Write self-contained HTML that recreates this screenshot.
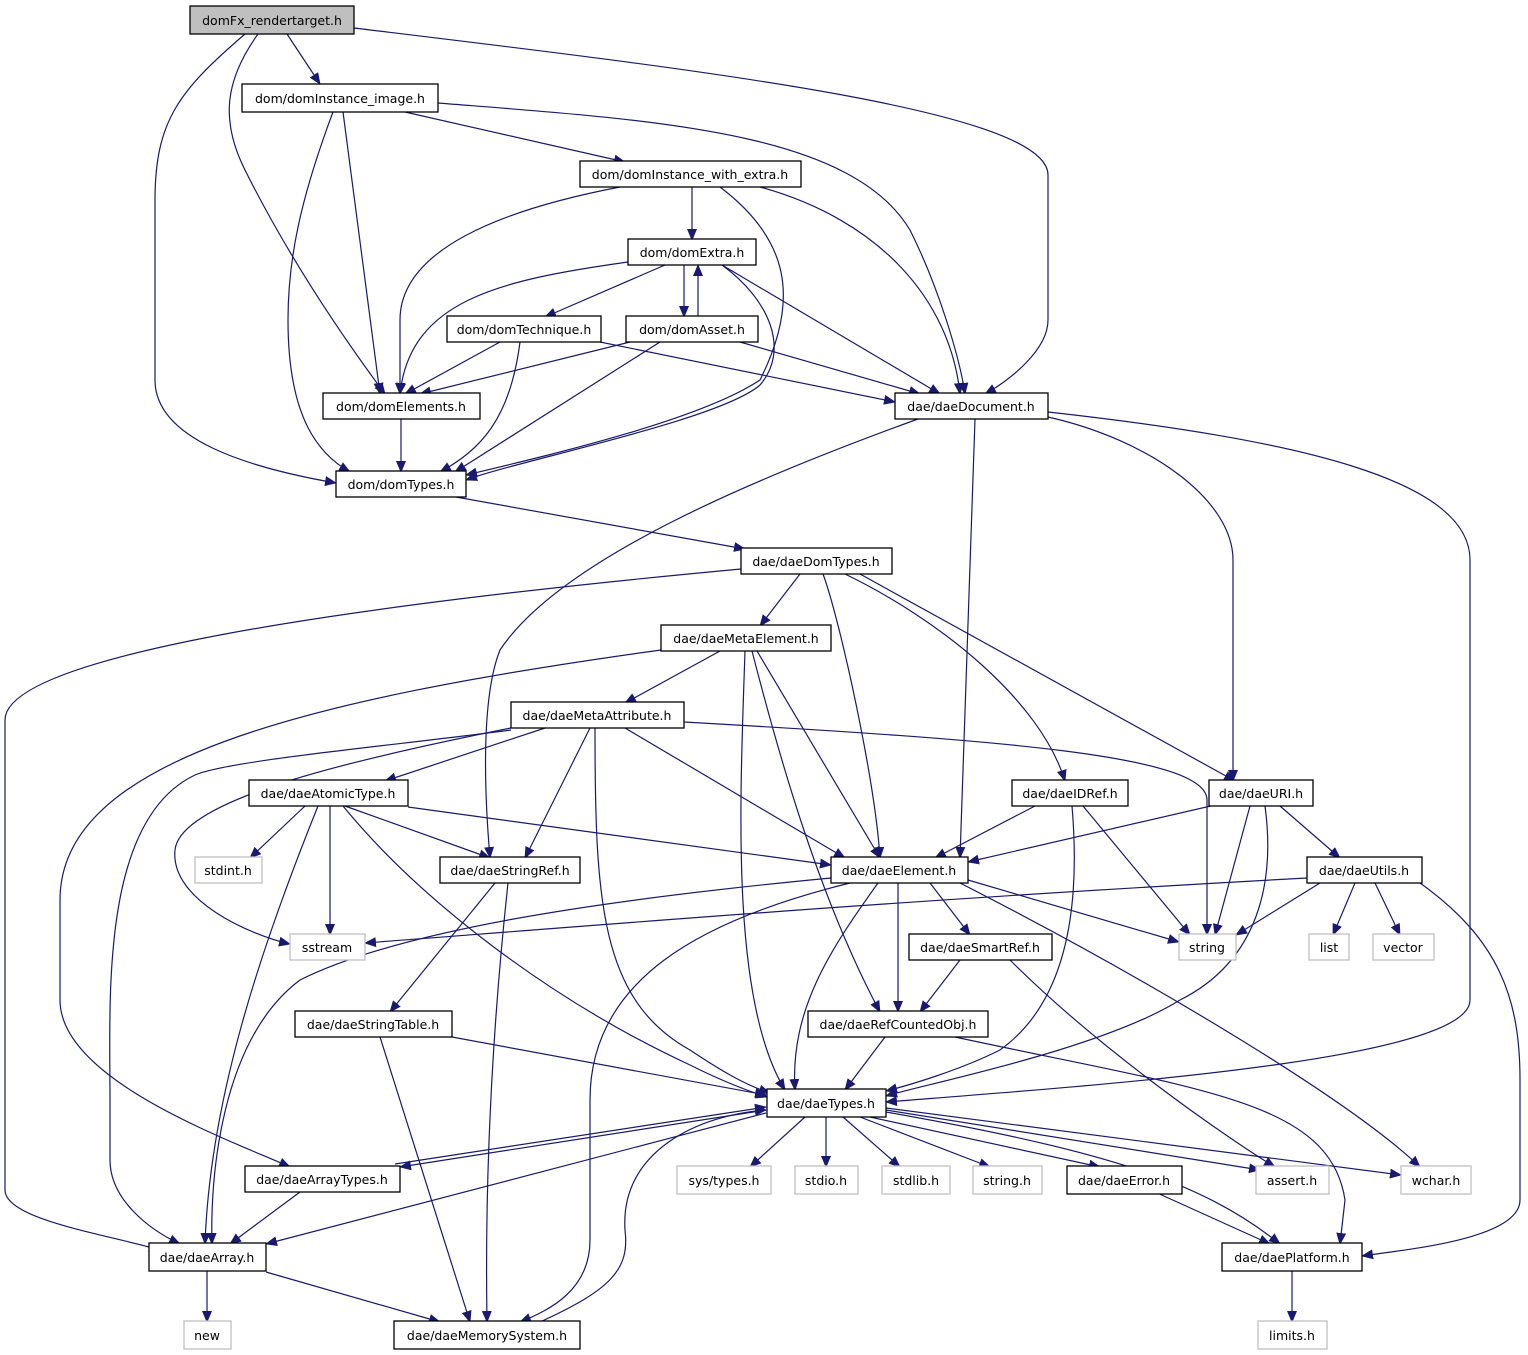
<!DOCTYPE html>
<html><head><meta charset="utf-8"><style>
html,body{margin:0;padding:0;background:#fff}
svg{display:block}
text{font-family:"DejaVu Sans","Liberation Sans",sans-serif;font-size:12.5px;fill:#000}
.n{fill:#fff;stroke:#000;stroke-width:1.3}
.g{fill:#fff;stroke:#bfbfbf;stroke-width:1.3}
.e{fill:none;stroke:#191970;stroke-width:1.2}
</style></head><body>
<svg width="1528" height="1355" viewBox="0 0 1528 1355" xmlns="http://www.w3.org/2000/svg">
<defs><marker id="a" markerWidth="12" markerHeight="10" refX="11" refY="5" orient="auto" markerUnits="userSpaceOnUse"><path d="M0,0 L12,5 L0,10 z" fill="#191970"/></marker></defs>
<g class="e" marker-end="url(#a)">
<path d="M287,34 L320,84"/>
<path d="M245,34 C180,90 155,120 155,200 L155,380 C155,440 250,468 336,483"/>
<path d="M258,34 C225,80 220,120 245,170 C290,260 345,340 385,394"/>
<path d="M354,28 C700,70 1048,110 1048,175 L1048,320 C1048,350 1010,380 985,394"/>
<path d="M405,112 L625,162"/>
<path d="M343,112 L380,394"/>
<path d="M333,112 C300,200 288,260 288,320 C288,420 320,455 350,472"/>
<path d="M438,103 C650,120 850,130 910,230 C940,290 960,360 965,394"/>
<path d="M692,187 L692,240"/>
<path d="M620,187 C500,210 400,250 400,320 L400,394"/>
<path d="M720,187 C790,240 800,300 760,380 C700,420 550,455 466,475"/>
<path d="M760,187 C880,220 950,300 960,394"/>
<path d="M665,265 L545,317"/>
<path d="M684,265 L684,317"/>
<path d="M698,317 L698,265"/>
<path d="M628,262 C500,280 410,300 400,394"/>
<path d="M722,265 C770,300 790,350 760,385 C720,420 520,460 466,480"/>
<path d="M722,265 L940,394"/>
<path d="M500,342 L405,394"/>
<path d="M520,342 C510,420 480,450 440,472"/>
<path d="M600,342 L895,402"/>
<path d="M630,342 L420,394"/>
<path d="M660,342 L455,472"/>
<path d="M740,342 L920,394"/>
<path d="M401,419 L401,472"/>
<path d="M456,497 L745,549"/>
<path d="M918,419 C750,480 560,560 500,650 C480,700 485,800 490,858"/>
<path d="M975,419 L960,858"/>
<path d="M1048,417 C1150,440 1233,500 1233,560 L1233,781"/>
<path d="M1048,412 C1300,440 1470,480 1470,560 L1470,1000 C1470,1060 1100,1085 886,1102"/>
<path d="M741,569 C300,610 5,660 5,720 L5,1190 C5,1220 110,1235 160,1250"/>
<path d="M800,574 L760,626"/>
<path d="M823,574 C840,620 875,780 880,858"/>
<path d="M845,574 C940,620 1040,700 1065,781"/>
<path d="M860,574 L1235,781"/>
<path d="M661,650 C300,700 60,760 60,900 L60,1000 C60,1080 230,1140 290,1167"/>
<path d="M720,651 L625,703"/>
<path d="M745,651 C740,800 730,1000 785,1090"/>
<path d="M757,651 L880,858"/>
<path d="M752,651 C780,760 820,900 880,1012"/>
<path d="M511,728 C350,760 180,800 175,850 C170,900 250,935 290,944"/>
<path d="M511,730 C400,745 230,760 195,775 C100,820 110,1000 110,1100 L110,1160 C110,1200 150,1230 180,1244"/>
<path d="M545,728 L385,781"/>
<path d="M590,728 L525,858"/>
<path d="M595,728 C595,900 600,1000 690,1050 C720,1070 745,1085 770,1093"/>
<path d="M625,728 L845,858"/>
<path d="M684,722 C1000,740 1207,755 1207,800 L1207,935"/>
<path d="M305,806 L250,858"/>
<path d="M330,806 L330,935"/>
<path d="M318,806 C260,950 210,1100 205,1244"/>
<path d="M345,806 L490,858"/>
<path d="M343,806 C420,900 550,1000 690,1065 C720,1080 745,1090 767,1097"/>
<path d="M408,807 L831,865"/>
<path d="M1035,806 L935,858"/>
<path d="M1083,806 L1190,935"/>
<path d="M1072,806 C1080,900 1070,1000 1000,1050 C960,1070 910,1085 886,1091"/>
<path d="M1215,805 L968,862"/>
<path d="M1250,806 L1215,935"/>
<path d="M1280,806 L1340,858"/>
<path d="M1265,806 C1275,880 1260,960 1180,1000 C1100,1050 920,1085 886,1096"/>
<path d="M495,883 L390,1012"/>
<path d="M508,883 C490,1050 485,1200 487,1322"/>
<path d="M1307,878 C900,900 600,925 365,943"/>
<path d="M831,878 C600,900 400,930 300,980 C220,1040 210,1180 212,1244"/>
<path d="M850,883 C700,920 590,980 590,1100 L590,1240 C590,1290 550,1310 520,1322"/>
<path d="M878,883 C830,950 790,1010 795,1090"/>
<path d="M898,883 L898,1012"/>
<path d="M930,883 L970,935"/>
<path d="M968,880 L1179,942"/>
<path d="M960,883 C1150,980 1350,1100 1420,1167"/>
<path d="M1320,883 L1236,935"/>
<path d="M1355,883 L1333,935"/>
<path d="M1375,883 L1400,935"/>
<path d="M1420,883 C1500,940 1520,1000 1520,1080 L1520,1200 C1520,1240 1400,1250 1362,1256"/>
<path d="M960,960 L920,1012"/>
<path d="M1010,960 C1100,1050 1230,1140 1275,1167"/>
<path d="M452,1037 L766,1095"/>
<path d="M380,1037 L470,1322"/>
<path d="M885,1037 L845,1090"/>
<path d="M955,1037 C1200,1090 1330,1100 1345,1200 L1340,1244"/>
<path d="M805,1117 L750,1167"/>
<path d="M826,1117 L826,1167"/>
<path d="M843,1117 L900,1167"/>
<path d="M860,1117 L990,1167"/>
<path d="M870,1117 L1100,1167"/>
<path d="M886,1110 L1260,1170"/>
<path d="M886,1108 L1401,1175"/>
<path d="M766,1110 L400,1167"/>
<path d="M395,1164 L766,1107"/>
<path d="M766,1113 L266,1244"/>
<path d="M886,1112 C1100,1150 1200,1180 1280,1244"/>
<path d="M300,1192 L230,1244"/>
<path d="M207,1269 L207,1322"/>
<path d="M266,1272 L440,1322"/>
<path d="M540,1322 C610,1290 630,1270 625,1230 C620,1150 700,1115 766,1110"/>
<path d="M1155,1192 L1270,1244"/>
<path d="M1292,1269 L1292,1322"/>
</g>
<g>
<rect x="190" y="6" width="164" height="28" fill="#bfbfbf" stroke="#000" stroke-width="1.3"/><text x="272" y="25" text-anchor="middle">domFx_rendertarget.h</text>
<rect class="n" x="242" y="84" width="196" height="28"/><text x="340" y="103" text-anchor="middle">dom/domInstance_image.h</text>
<rect class="n" x="580" y="161" width="221" height="26"/><text x="690" y="179" text-anchor="middle">dom/domInstance_with_extra.h</text>
<rect class="n" x="628" y="239" width="128" height="26"/><text x="692" y="257" text-anchor="middle">dom/domExtra.h</text>
<rect class="n" x="447" y="316" width="154" height="26"/><text x="524" y="334" text-anchor="middle">dom/domTechnique.h</text>
<rect class="n" x="626" y="316" width="132" height="26"/><text x="692" y="334" text-anchor="middle">dom/domAsset.h</text>
<rect class="n" x="323" y="393" width="157" height="26"/><text x="401" y="411" text-anchor="middle">dom/domElements.h</text>
<rect class="n" x="895" y="393" width="153" height="26"/><text x="971" y="411" text-anchor="middle">dae/daeDocument.h</text>
<rect class="n" x="336" y="471" width="130" height="26"/><text x="401" y="489" text-anchor="middle">dom/domTypes.h</text>
<rect class="n" x="741" y="548" width="151" height="26"/><text x="816" y="566" text-anchor="middle">dae/daeDomTypes.h</text>
<rect class="n" x="661" y="625" width="170" height="26"/><text x="746" y="643" text-anchor="middle">dae/daeMetaElement.h</text>
<rect class="n" x="511" y="702" width="173" height="26"/><text x="597" y="720" text-anchor="middle">dae/daeMetaAttribute.h</text>
<rect class="n" x="249" y="780" width="159" height="26"/><text x="328" y="798" text-anchor="middle">dae/daeAtomicType.h</text>
<rect class="n" x="1012" y="780" width="116" height="26"/><text x="1070" y="798" text-anchor="middle">dae/daeIDRef.h</text>
<rect class="n" x="1209" y="780" width="104" height="26"/><text x="1261" y="798" text-anchor="middle">dae/daeURI.h</text>
<rect class="g" x="195" y="857" width="67" height="26"/><text x="228" y="875" text-anchor="middle">stdint.h</text>
<rect class="n" x="440" y="857" width="140" height="26"/><text x="510" y="875" text-anchor="middle">dae/daeStringRef.h</text>
<rect class="n" x="831" y="857" width="137" height="26"/><text x="899" y="875" text-anchor="middle">dae/daeElement.h</text>
<rect class="n" x="1307" y="857" width="115" height="26"/><text x="1364" y="875" text-anchor="middle">dae/daeUtils.h</text>
<rect class="g" x="290" y="934" width="75" height="26"/><text x="327" y="952" text-anchor="middle">sstream</text>
<rect class="g" x="1179" y="934" width="57" height="26"/><text x="1207" y="952" text-anchor="middle">string</text>
<rect class="g" x="1309" y="934" width="40" height="26"/><text x="1329" y="952" text-anchor="middle">list</text>
<rect class="g" x="1373" y="934" width="61" height="26"/><text x="1403" y="952" text-anchor="middle">vector</text>
<rect class="n" x="909" y="934" width="143" height="26"/><text x="980" y="952" text-anchor="middle">dae/daeSmartRef.h</text>
<rect class="n" x="295" y="1011" width="157" height="26"/><text x="373" y="1029" text-anchor="middle">dae/daeStringTable.h</text>
<rect class="n" x="808" y="1011" width="180" height="26"/><text x="898" y="1029" text-anchor="middle">dae/daeRefCountedObj.h</text>
<rect class="n" x="767" y="1089" width="119" height="28"/><text x="826" y="1108" text-anchor="middle">dae/daeTypes.h</text>
<rect class="n" x="245" y="1166" width="155" height="26"/><text x="322" y="1184" text-anchor="middle">dae/daeArrayTypes.h</text>
<rect class="g" x="677" y="1166" width="94" height="28"/><text x="724" y="1185" text-anchor="middle">sys/types.h</text>
<rect class="g" x="795" y="1166" width="63" height="28"/><text x="826" y="1185" text-anchor="middle">stdio.h</text>
<rect class="g" x="882" y="1166" width="68" height="28"/><text x="916" y="1185" text-anchor="middle">stdlib.h</text>
<rect class="g" x="973" y="1166" width="69" height="28"/><text x="1007" y="1185" text-anchor="middle">string.h</text>
<rect class="n" x="1067" y="1166" width="115" height="28"/><text x="1124" y="1185" text-anchor="middle">dae/daeError.h</text>
<rect class="g" x="1256" y="1166" width="73" height="28"/><text x="1292" y="1185" text-anchor="middle">assert.h</text>
<rect class="g" x="1401" y="1166" width="70" height="28"/><text x="1436" y="1185" text-anchor="middle">wchar.h</text>
<rect class="n" x="149" y="1243" width="117" height="28"/><text x="207" y="1262" text-anchor="middle">dae/daeArray.h</text>
<rect class="n" x="1222" y="1243" width="140" height="28"/><text x="1292" y="1262" text-anchor="middle">dae/daePlatform.h</text>
<rect class="g" x="184" y="1321" width="47" height="28"/><text x="207" y="1340" text-anchor="middle">new</text>
<rect class="n" x="394" y="1321" width="186" height="28"/><text x="487" y="1340" text-anchor="middle">dae/daeMemorySystem.h</text>
<rect class="g" x="1258" y="1321" width="69" height="28"/><text x="1292" y="1340" text-anchor="middle">limits.h</text>
</g>
</svg>
</body></html>
